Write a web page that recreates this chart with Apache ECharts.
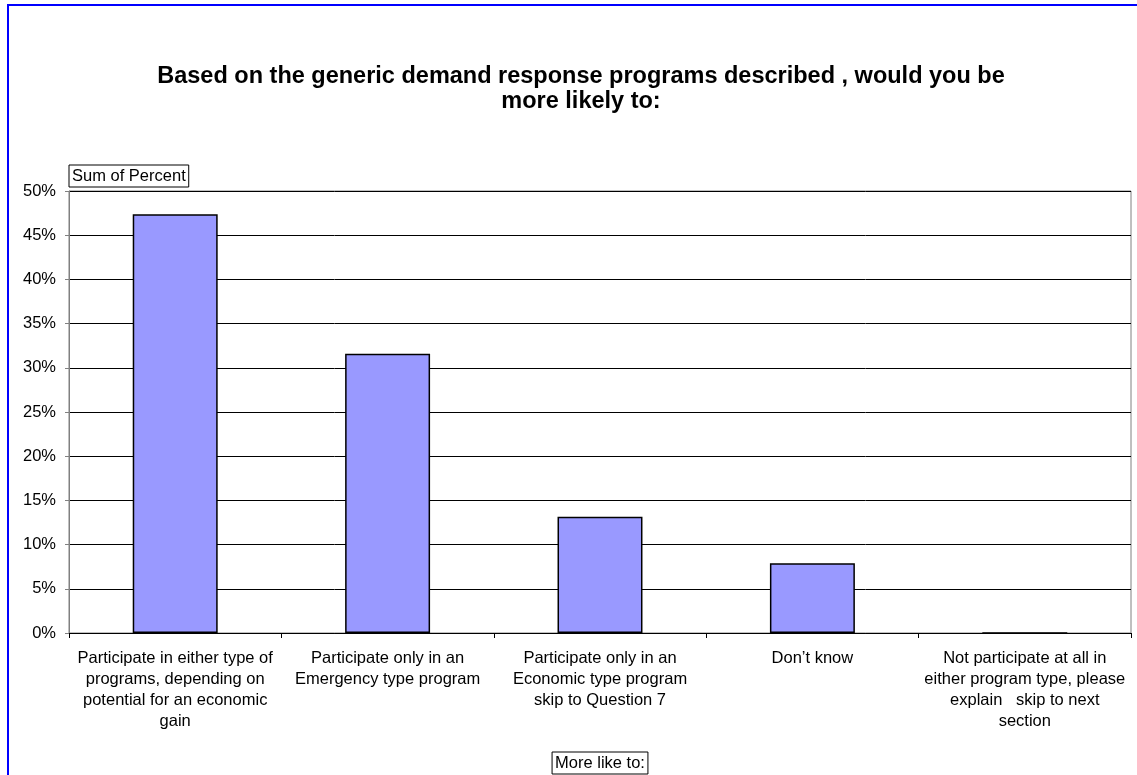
<!DOCTYPE html>
<html>
<head>
<meta charset="utf-8">
<script src="https://cdn.jsdelivr.net/npm/echarts@6/dist/echarts.min.js"></script>
<style>
html,body{margin:0;padding:0;background:#fff;}
#chart{width:1137px;height:775px;}
</style>
</head>
<body>
<div id="chart"></div>
<script>
const titleText = 'Based on the generic demand response programs described , would you be\nmore likely to:';
const categories = [
  'Participate in either type of\nprograms, depending on\npotential for an economic\ngain',
  'Participate only in an\nEmergency type program',
  'Participate only in an\nEconomic type program\nskip to Question 7',
  'Don\u2019t know',
  'Not participate at all in\neither program type, please\nexplain   skip to next\nsection'
];
const percentValues = [47.37, 31.58, 13.16, 7.89, 0];
const yAxisName = 'Sum of Percent';
const xAxisName = 'More like to:';

const FONT = '"Liberation Sans", Arial, sans-serif';
const chart = echarts.init(document.getElementById('chart'), null, {renderer: 'canvas'});
chart.setOption({
  animation: false,
  backgroundColor: '#fff',
  title: {
    text: titleText,
    left: 576,
    top: 59,
    textAlign: 'center',
    textStyle: {fontFamily: FONT, fontSize: 23.5, fontWeight: 'bold', color: '#000', lineHeight: 25}
  },
  graphic: [{
    type: 'rect',
    shape: {x: 8, y: 5, width: 1300, height: 1000},
    style: {fill: 'none', stroke: '#0000FF', lineWidth: 2},
    silent: true
  }],
  grid: {
    left: 69, right: 6, top: 191, bottom: 142,
    containLabel: false,
    outerBoundsMode: 'none',
    show: true, borderColor: '#808080', borderWidth: 1, backgroundColor: 'transparent'
  },
  xAxis: {
    type: 'category',
    data: categories,
    name: xAxisName,
    nameLocation: 'middle',
    nameGap: 119,
    nameTextStyle: {
      fontFamily: FONT, fontSize: 16.5, color: '#000',
      borderColor: '#000', borderWidth: 1, padding: [3, 3, 2, 3],
      verticalAlign: 'top'
    },
    axisLine: {show: true, lineStyle: {color: '#000', width: 1}},
    axisTick: {show: true, length: 5, lineStyle: {color: '#000'}},
    axisLabel: {
      interval: 0, margin: 15, fontFamily: FONT, fontSize: 16.5, color: '#000',
      lineHeight: 21, align: 'center'
    }
  },
  yAxis: {
    type: 'value',
    min: 0, max: 50, interval: 5,
    name: yAxisName,
    nameLocation: 'end',
    nameGap: 4,
    nameTextStyle: {
      fontFamily: FONT, fontSize: 16.5, color: '#000', align: 'left',
      verticalAlign: 'bottom',
      borderColor: '#000', borderWidth: 1, padding: [3, 3, 2, 3]
    },
    axisLine: {show: true, lineStyle: {color: '#808080', width: 1}},
    axisTick: {show: true, length: 4, lineStyle: {color: '#808080'}},
    axisLabel: {
      margin: 13, fontFamily: FONT, fontSize: 16.5, color: '#000',
      formatter: '{value}%'
    },
    splitLine: {show: true, lineStyle: {color: '#000', width: 1}}
  },
  series: [{
    type: 'bar',
    data: percentValues,
    barWidth: '40%',
    itemStyle: {color: '#9999FF', borderColor: '#000', borderWidth: 1.5}
  }]
});
</script>
</body>
</html>
